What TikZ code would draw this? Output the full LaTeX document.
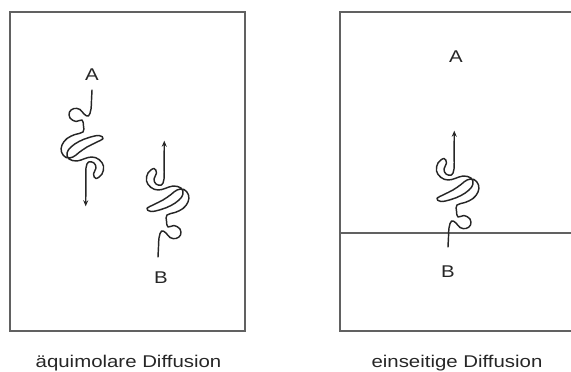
\documentclass[tikz,border=0pt]{standalone}
\usepackage{fontspec}
\setmainfont{Liberation Sans}
\usetikzlibrary{arrows.meta}
\newcommand\wtext[1]{\scalebox{1.2}[1]{#1}}
\tikzset{
  boxline/.style={draw=black!62, line width=1.8pt},
  mol/.style={draw=black!85, line width=1.45pt, line join=round, line cap=round},
  lbl/.style={font=\fontsize{17}{20}\selectfont, inner sep=0pt, anchor=base, text=black!85},
  molecule/.pic={
    \draw[mol,-{Stealth[length=6pt,width=5pt]}] plot[smooth,tension=0.65] coordinates {
      (0,0) (0.5,-10) (1,-19) (3.5,-26) (8,-24) (12,-19.5) (18,-18.5) (22.5,-22)
      (22,-28) (16,-31.5) (10,-30) (8.5,-36) (9,-42) (17,-44.5) (25,-48.5)
      (30,-55) (30.5,-62) (26,-67.5) (19,-67) (13,-62.5) (5,-57) (-4,-52.5)
      (-11,-48.5) (-7,-45.5) (3,-47.5) (13,-51.5) (21,-57) (25,-63) (23,-69)
      (15,-71) (7,-68.5) (0,-67) (-7,-69.5) (-11.5,-76) (-10,-84) (-4,-88.5)
      (-1.5,-84) (-4,-78) (-2,-73) (3.5,-72) (6,-78) (6.1,-90)
    } -- (6.3,-116.3);
  }
}
\begin{document}
\begin{tikzpicture}[x=1pt, y=-1pt]
  \useasboundingbox (0,0) rectangle (571,372);
  \clip (0,0) rectangle (571,372);
  % left box
  \draw[boxline] (10,12.3) rectangle (245,330.7);
  % right box (extends beyond right edge)
  \draw[boxline] (585,11.7) -- (340,11.7) -- (340,331) -- (585,331);
  \draw[boxline] (340,233.2) -- (585,233.2);
  % molecules
  \pic[rotate=180] at (92,90) {molecule};
  \pic at (158,257) {molecule};
  \pic at (448,247) {molecule};
  % labels
  \node[lbl] (A1) at (92,80.7) {\wtext{A}};
  \node[lbl] (B1) at (161,283) {\wtext{B}};
  \node[lbl] (A2) at (456,62) {\wtext{A}};
  \node[lbl] (B2) at (448,277.5) {\wtext{B}};
  \node[lbl] (c1) at (128.5,367) {\wtext{äquimolare Diffusion}};
  \node[lbl] (c2) at (457,367) {\wtext{einseitige Diffusion}};
\end{tikzpicture}
\end{document}
